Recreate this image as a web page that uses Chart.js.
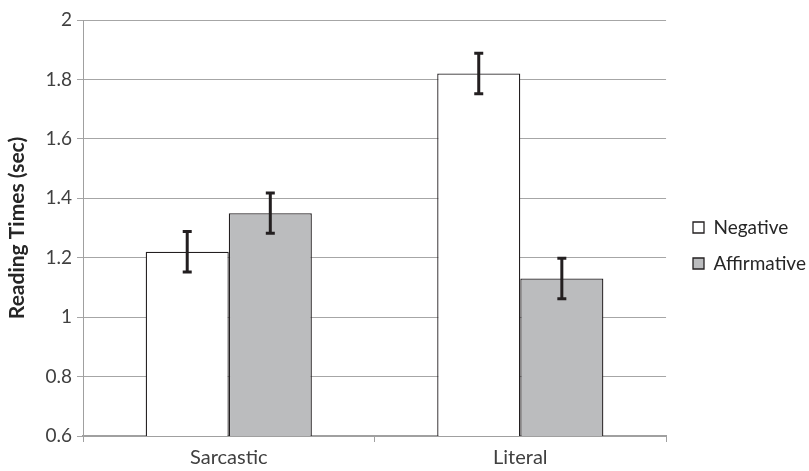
<!DOCTYPE html>
<html>
<head>
<meta charset="utf-8">
<script src="https://cdn.jsdelivr.net/npm/chart.js@4"></script>
<style>
 html,body{margin:0;padding:0;background:#fff;}
 #wrap{width:809px;height:471px;}
</style>
</head>
<body>
<div id="wrap"><canvas id="c"></canvas></div>
<script>
const categories=["Sarcastic","Literal"];
const negative=[1.22,1.82];
const affirmative=[1.35,1.13];
const negErr=[0.068,0.068];
const affErr=[0.068,0.068];
const yTicks=[0.6,0.8,1,1.2,1.4,1.6,1.8,2];

/* ----- ERROR BARS ----- */
const errBars={
 id:"errBars",
 afterDatasetsDraw(chart){
  const ctx=chart.ctx;
  const y=chart.scales.y;
  chart.data.datasets.forEach((ds,di)=>{
   const meta=chart.getDatasetMeta(di);
   meta.data.forEach((bar,i)=>{
    const v=ds.data[i], e=ds.err[i];
    const top=y.getPixelForValue(v+e);
    const bot=y.getPixelForValue(v-e);
    ctx.save();
    ctx.strokeStyle="#231f20";
    ctx.lineWidth=3;
    ctx.beginPath();
    ctx.moveTo(bar.x,top);ctx.lineTo(bar.x,bot);
    ctx.moveTo(bar.x-4.5,top);ctx.lineTo(bar.x+4.5,top);
    ctx.moveTo(bar.x-4.5,bot);ctx.lineTo(bar.x+4.5,bot);
    ctx.stroke();
    ctx.restore();
   });
  });
 }
};

/* ----- LEGEND NUDGE ----- */
const legendShift={
 id:"legendShift",
 afterLayout(chart){
  const lg=chart.legend;
  const dx=693-(lg.left+lg.options.labels.padding);
  lg.left+=dx; lg.right+=dx;
 }
};

new Chart(document.getElementById("c"),{
 type:"bar",
 data:{
  labels:categories,
  datasets:[{
   label:"Negative",
   data:negative,
   err:negErr,
   backgroundColor:"#ffffff",
   borderColor:"#231f20",
   borderWidth:1.3
  },{
   label:"Affirmative",
   data:affirmative,
   err:affErr,
   backgroundColor:"#bbbcbe",
   borderColor:"#231f20",
   borderWidth:1.3
  }]
 },
 options:{
  responsive:true,
  maintainAspectRatio:false,
  animation:false,
  layout:{padding:{top:20,left:0,right:3,bottom:0}},
  datasets:{bar:{categoryPercentage:0.57,barPercentage:1}},
  plugins:{
   tooltip:{enabled:false},
   legend:{
    position:"right",
    labels:{
     font:{family:"Lato",size:19},
     color:"#262626",
     boxWidth:11,
     boxHeight:11,
     padding:17
    }
   }
  },
  scales:{
   x:{
    grid:{offset:true,drawOnChartArea:false,drawTicks:true,tickLength:6,color:"#a0a0a0"},
    border:{color:"#a0a0a0",width:2},
    ticks:{font:{family:"Lato",size:20},color:"#404040",padding:4},
    afterFit(s){s.height=35;}
   },
   y:{
    min:0.6,
    max:2,
    afterBuildTicks(s){s.ticks=yTicks.map(v=>({value:v}));},
    grid:{color:"#a6a6a6",tickLength:6},
    border:{color:"#a0a0a0"},
    ticks:{
     font:{family:"Lato",size:19},
     color:"#404040",
     padding:5,
     callback:v=>String(Math.round(v*10)/10)
    },
    title:{
     display:true,
     text:"Reading Times (sec)",
     font:{family:"Lato",size:21,weight:"bold"},
     color:"#262626",
     padding:{top:5,bottom:4}
    },
    afterFit(s){s.width=83;}
   }
  }
 },
 plugins:[errBars,legendShift]
});
</script>
</body>
</html>
